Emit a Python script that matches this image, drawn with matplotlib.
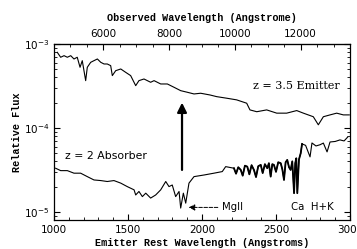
import numpy as np
import matplotlib
matplotlib.use("Agg")
import matplotlib.pyplot as plt
from matplotlib.ticker import MultipleLocator, LogLocator, NullFormatter

# z = 3.5 emitter spectrum (rest wavelength, relative flux)
emit_wave = [1022, 1045, 1068, 1090, 1113, 1135, 1157, 1176, 1191, 1214,
             1225, 1248, 1270, 1293, 1316, 1338, 1360, 1383, 1394, 1417,
             1451, 1484, 1518, 1552, 1574, 1608, 1653, 1676, 1721, 1766,
             1811, 1856, 1901, 1946, 1991, 2054, 2099, 2167, 2234, 2302,
             2324, 2370, 2437, 2505, 2572, 2640, 2685, 2752, 2786, 2820,
             2865, 2910, 2955, 2995]
emit_flux = [7.96e-4, 6.95e-4, 7.26e-4, 6.95e-4, 7.26e-4, 6.63e-4, 6.95e-4, 5.28e-4, 6.33e-4, 3.66e-4,
             5.28e-4, 6.05e-4, 6.33e-4, 6.63e-4, 6.05e-4, 5.78e-4, 5.78e-4, 5.52e-4, 4.20e-4, 4.81e-4,
             5.04e-4, 4.60e-4, 4.20e-4, 3.19e-4, 3.66e-4, 3.83e-4, 3.50e-4, 3.66e-4, 3.34e-4, 3.34e-4,
             3.05e-4, 2.78e-4, 2.66e-4, 2.54e-4, 2.59e-4, 2.47e-4, 2.36e-4, 2.26e-4, 2.16e-4, 1.97e-4,
             1.64e-4, 1.56e-4, 1.64e-4, 1.50e-4, 1.50e-4, 1.61e-4, 1.50e-4, 1.36e-4, 1.09e-4, 1.36e-4,
             1.43e-4, 1.50e-4, 1.43e-4, 1.43e-4]

# z = 2 absorber spectrum
abs_wave = [1011, 1045, 1090, 1135, 1180, 1225, 1270, 1316, 1360, 1405,
            1451, 1495, 1541, 1552, 1574, 1597, 1620, 1653, 1687, 1721,
            1755, 1777, 1799, 1822, 1845, 1856, 1874, 1890, 1912, 1946,
            2014, 2081, 2137, 2160, 2216, 2230, 2245, 2262, 2275, 2290,
            2306, 2320, 2335, 2351, 2365, 2380, 2397, 2410, 2425, 2441,
            2452, 2464, 2475, 2486, 2500, 2515, 2532, 2543, 2554, 2565,
            2576, 2588, 2599, 2610, 2622, 2630, 2637, 2644, 2655, 2667,
            2676, 2700, 2730, 2743, 2770, 2797, 2820, 2845, 2865, 2900,
            2932, 2960, 2985]
abs_flux = [3.31e-5, 3.10e-5, 3.10e-5, 2.89e-5, 2.89e-5, 2.63e-5, 2.40e-5, 2.36e-5, 2.30e-5, 2.36e-5,
            2.20e-5, 2.00e-5, 1.83e-5, 1.59e-5, 1.75e-5, 1.52e-5, 1.67e-5, 1.46e-5, 1.59e-5, 1.83e-5,
            2.30e-5, 2.00e-5, 2.09e-5, 1.52e-5, 1.75e-5, 1.11e-5, 1.67e-5, 1.27e-5, 2.20e-5, 2.63e-5,
            2.75e-5, 2.89e-5, 3.02e-5, 3.46e-5, 3.31e-5, 2.85e-5, 3.40e-5, 3.16e-5, 2.70e-5, 3.55e-5,
            3.46e-5, 2.80e-5, 3.60e-5, 3.16e-5, 2.60e-5, 3.50e-5, 3.63e-5, 2.90e-5, 3.70e-5, 3.31e-5,
            3.80e-5, 2.63e-5, 3.70e-5, 3.63e-5, 3.00e-5, 3.90e-5, 3.80e-5, 3.20e-5, 2.40e-5, 3.90e-5,
            4.16e-5, 3.40e-5, 3.16e-5, 4.00e-5, 1.67e-5, 3.80e-5, 4.35e-5, 1.67e-5, 4.20e-5, 5.00e-5,
            6.45e-5, 6.20e-5, 4.52e-5, 6.62e-5, 6.10e-5, 6.30e-5, 6.60e-5, 5.18e-5, 6.80e-5, 6.90e-5,
            7.20e-5, 7.00e-5, 7.80e-5]

rest_ticks = [1000, 1500, 2000, 2500, 3000]
obs_ticks = [6000, 8000, 10000, 12000]
z_emit = 3.5

fig = plt.figure(figsize=(3.57, 2.49), dpi=100)
ax = fig.add_axes([54/357, 1-220/249, 296/357, 176/249])

ax.plot(emit_wave, emit_flux, color='black', lw=0.8)
ax.plot(abs_wave, abs_flux, color='black', lw=0.8)
# the noisy stretch of the absorber spectrum prints darker
ax.plot(abs_wave[34:71], abs_flux[34:71], color='black', lw=1.3)

ax.set_yscale('log')
ax.set_xlim(1000, 3000)
ax.set_ylim(8.0e-6, 1e-3)
ax.set_xticks(rest_ticks)
ax.xaxis.set_minor_locator(MultipleLocator(100))
ax.yaxis.set_minor_locator(LogLocator(base=10, subs=np.arange(2, 10)))
ax.yaxis.set_minor_formatter(NullFormatter())
ax.tick_params(which='both', direction='in', right=True, top=False, labelsize=7.5)
ax.tick_params(which='major', length=4)
ax.tick_params(which='minor', length=2)
for s in ax.spines.values():
    s.set_linewidth(0.9)

top = ax.secondary_xaxis('top', functions=(lambda x: x*(1+z_emit), lambda x: x/(1+z_emit)))
top.set_xticks(obs_ticks)
top.xaxis.set_minor_locator(MultipleLocator(500))
top.tick_params(which='both', direction='in', labelsize=7.5)
top.tick_params(which='major', length=4)
top.tick_params(which='minor', length=2)

mono = dict(family='Liberation Mono', weight='bold', size=7.3)
ax.set_xlabel('Emitter Rest Wavelength (Angstroms)', labelpad=2, **mono)
top.set_xlabel('Observed Wavelength (Angstrome)', labelpad=6, **mono)
ax.set_ylabel('Relative Flux', labelpad=1, **mono)

ax.text(2640, 3.2e-4, 'z = 3.5 Emitter', family='DejaVu Serif', size=8, ha='center', va='center')
ax.text(1350, 4.6e-5, 'z = 2 Absorber', family='DejaVu Sans', size=7.8, ha='center', va='center')
ax.text(2600, 1.13e-5, 'Ca  H+K', family='DejaVu Sans', size=7.3, ha='left', va='center')
ax.annotate('MgII', xy=(1910, 1.13e-5), xytext=(2135, 1.13e-5),
            family='DejaVu Sans', size=7.3, ha='left', va='center',
            arrowprops=dict(arrowstyle='-|>', ls='--', lw=0.7, color='black',
                            shrinkA=1, shrinkB=0, mutation_scale=9))
ax.annotate('', xy=(1865, 2.0e-4), xytext=(1865, 3.16e-5),
            arrowprops=dict(arrowstyle='-|>', lw=1.6, color='black',
                            shrinkA=0, shrinkB=0, mutation_scale=14))

fig.savefig('out.png', dpi=100)
